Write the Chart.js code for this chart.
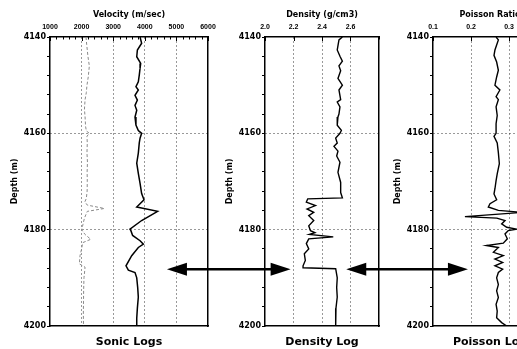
<!DOCTYPE html>
<html>
<head>
<meta charset="utf-8">
<script src="https://cdn.jsdelivr.net/npm/chart.js@4.4.1/dist/chart.umd.min.js"></script>
<style>
html, body { margin: 0; padding: 0; background: #fff; overflow: hidden; width: 517px; height: 349px; }
#wrap { position: relative; width: 560px; height: 349px; }
canvas { position: absolute; left: 0; top: 0; }
</style>
</head>
<body>
<div id="wrap">
  <canvas id="sonic" width="560" height="349"></canvas>
  <canvas id="density" width="560" height="349"></canvas>
  <canvas id="poisson" width="560" height="349"></canvas>
</div>
<script>
// depth range (m), shared by all three logs
const depthMin = 4140
const depthMax = 4200

// sonic log: P velocity (solid) and S velocity (grey), m/sec
const vpDepth = [4140, 4141.3, 4142.7, 4144.1, 4145.5, 4146.5, 4147.9, 4149.3, 4150.3, 4151, 4152.1, 4153.1, 4154.2, 4155.2,
  4156.6, 4158.3, 4159.4, 4160, 4161, 4162, 4164.1, 4166.2, 4168.3, 4170.4, 4172.5, 4173.8, 4175.3, 4176.2, 4178.1, 4179.9,
  4180.2, 4181.2, 4182.3, 4183, 4183.7, 4185.4, 4187.5, 4188.4, 4188.9, 4190, 4192, 4194, 4196.3, 4198.4, 4200]
const vp = [3850, 3900, 3765, 3745, 3870, 3850, 3825, 3795, 3720, 3795, 3690, 3765, 3690, 3745,
  3690, 3720, 3795, 3900, 3850, 3825, 3795, 3745, 3795, 3850, 3900, 3975, 3745, 4405, 3900, 3530,
  3560, 3615, 3850, 3955, 3795, 3585, 3405, 3480, 3690, 3745, 3775, 3795, 3765, 3745, 3745]

const vsDepth = [4140, 4141.5, 4142.7, 4144, 4146, 4148.3, 4150, 4151.5, 4153, 4155, 4156.6, 4158.5, 4159.5, 4160, 4160.6,
  4162, 4164, 4166, 4168, 4170, 4172, 4173.5, 4174.2, 4174.9, 4175.6, 4176.2, 4177.6, 4179, 4180, 4181, 4182, 4182.7,
  4184, 4185.4, 4187.1, 4187.8, 4190, 4192.5, 4195, 4197.5, 4200]
const vs = [2140, 2160, 2180, 2200, 2245, 2210, 2170, 2150, 2110, 2090, 2110, 2125, 2150, 2245, 2170,
  2180, 2170, 2185, 2175, 2180, 2175, 2150, 2105, 2180, 2720, 2180, 2090, 2040, 2000, 2110, 2290, 2035,
  2000, 1950, 1930, 2110, 2075, 2065, 2060, 2055, 2060]

// density log, g/cm3
const rhoDepth = [4140, 4140.6, 4142.7, 4144, 4145, 4146, 4147, 4148.6, 4150, 4151, 4153, 4153.5, 4154.5, 4156, 4156.6,
  4158.3, 4159.4, 4160, 4161, 4162, 4162.7, 4163.7, 4164.7, 4166, 4168.1, 4170.2, 4172.3, 4173.4, 4173.6, 4174.3, 4175,
  4175.7, 4176.4, 4177.1, 4178.1, 4179.2, 4180.2, 4180.6, 4181, 4181.5, 4181.9, 4182.9, 4184, 4185, 4186.4, 4187.5,
  4187.9, 4188.1, 4190, 4192, 4194, 4196.3, 4198.4, 4200]
const rho = [2.543, 2.519, 2.507, 2.526, 2.543, 2.519, 2.531, 2.512, 2.543, 2.519, 2.531, 2.507, 2.526, 2.519, 2.512,
  2.507, 2.536, 2.526, 2.496, 2.507, 2.484, 2.512, 2.503, 2.526, 2.512, 2.531, 2.531, 2.543, 2.30, 2.29, 2.354,
  2.295, 2.342, 2.307, 2.342, 2.307, 2.319, 2.35, 2.31, 2.479, 2.307, 2.29, 2.307, 2.276, 2.283, 2.267,
  2.267, 2.496, 2.507, 2.503, 2.507, 2.498, 2.496, 2.496]

// poisson ratio log
const prDepth = [4140, 4140.6, 4142.7, 4143.8, 4145.2, 4146.9, 4148.3, 4150, 4151, 4152.4, 4153, 4154.5, 4156.3, 4158,
  4160, 4160.6, 4162, 4164, 4166.3, 4168.4, 4169.8, 4171.5, 4172.6, 4173.8, 4174.6, 4175.3, 4176, 4176.4, 4177.3,
  4177.6, 4178.1, 4178.8, 4179.5, 4179.9, 4180.2, 4180.9, 4181.9, 4182.8, 4183.3, 4183.7, 4184.7, 4185.4, 4186.1,
  4186.8, 4187.5, 4188.2, 4188.9, 4190, 4191.4, 4192.7, 4194.1, 4195.5, 4196.9, 4198.3, 4199.3, 4200]
const pr = [0.266, 0.272, 0.263, 0.2605, 0.2675, 0.272, 0.2675, 0.263, 0.276, 0.266, 0.272, 0.266, 0.269, 0.266,
  0.266, 0.2605, 0.269, 0.272, 0.2746, 0.269, 0.266, 0.263, 0.2605, 0.2675, 0.25, 0.2456, 0.272, 0.335, 0.184,
  0.268, 0.2895, 0.2807, 0.294, 0.32, 0.298, 0.2895, 0.2956, 0.285, 0.241, 0.272, 0.259, 0.285, 0.263,
  0.2833, 0.263, 0.2833, 0.272, 0.2675, 0.272, 0.2675, 0.272, 0.266, 0.269, 0.2675, 0.2807, 0.294]

// arrows between the panels (depth, value on left panel, value on right panel)
const arrowDepth = [4188.2, 4188.2]
const arrowFrom = [[0, 4700], [1, 2.57]]
const arrowTo = [[1, 2.18], [2, 0.192]]

const black = '#000'
const dotted = '#333'
const tickFont = { family: "'Liberation Sans', Arial, sans-serif", size: 7, weight: 'bold' }
const labelFont = { family: "'DejaVu Sans', sans-serif", size: 8, weight: 'bold' }
const bigFont = { family: "'DejaVu Sans', sans-serif", size: 11, weight: 'bold' }

function pts(depths, vals) {
  return depths.map((d, i) => ({ x: vals[i], y: d }))
}

// small tick marks hanging down from the top axis
const inwardTicks = {
  id: 'inwardTicks',
  afterDraw(chart) {
    const s = chart.scales.x
    const top = chart.chartArea.top
    const ctx = chart.ctx
    ctx.save()
    ctx.strokeStyle = black
    ctx.lineWidth = 1
    s.ticks.forEach(t => {
      const px = Math.round(s.getPixelForValue(t.value)) + 0.5
      ctx.beginPath()
      ctx.moveTo(px, top)
      ctx.lineTo(px, top + (t.label ? 4 : 2.5))
      ctx.stroke()
    })
    ctx.restore()
  }
}

function panel(id, o) {
  return new Chart(document.getElementById(id), {
    type: 'scatter',
    data: { datasets: o.datasets },
    options: {
      responsive: false,
      animation: false,
      devicePixelRatio: 1,
      layout: { padding: { left: o.padLeft, right: o.padRight, top: 0, bottom: 0 } },
      plugins: { legend: { display: false }, tooltip: { enabled: false } },
      elements: { point: { radius: 0 }, line: { tension: 0 } },
      scales: {
        x: {
          type: 'linear', position: 'top', min: o.min, max: o.max,
          ticks: { stepSize: o.step, autoSkip: false, maxRotation: 0, padding: 6, font: tickFont, color: black, callback: o.label },
          grid: {
            drawTicks: false, lineWidth: 1,
            color: c => (c.tick && o.grid(c.tick.value)) ? dotted : 'transparent'
          },
          border: { color: black, width: 1.5, dash: [1, 3] },
          title: { display: true, text: o.title, font: labelFont, color: black, padding: { top: 10, bottom: 0 } },
          afterFit: s => { s.height = 37 }
        },
        xb: {
          type: 'linear', position: 'bottom', min: o.min, max: o.max,
          ticks: { display: false },
          grid: { display: false },
          border: { color: black, width: 1.5 },
          title: { display: true, text: o.caption, font: bigFont, color: black, padding: { top: 0, bottom: 0 } },
          afterFit: s => { s.height = 23 }
        },
        y: {
          type: 'linear', position: 'left', reverse: true, min: depthMin, max: depthMax,
          ticks: {
            stepSize: 4, autoSkip: false, padding: 1, font: labelFont, color: black,
            callback: v => (v - depthMin) % 20 === 0 ? String(v) : ''
          },
          grid: {
            tickLength: 3, tickColor: black, lineWidth: 1,
            color: c => (c.tick && c.tick.value % 20 === 0 && c.tick.value > depthMin && c.tick.value < depthMax) ? dotted : 'transparent'
          },
          border: { color: black, width: 1.5, dash: [1, 3] },
          title: { display: true, text: 'Depth (m)', font: labelFont, color: black, padding: { top: 10, bottom: 0 } },
          afterFit: s => { s.width = 50 }
        },
        y2: {
          type: 'linear', position: 'right', reverse: true, min: depthMin, max: depthMax,
          ticks: { display: false },
          grid: { display: false },
          border: { color: black, width: 1.5 },
          afterFit: s => { s.width = o.rightW }
        }
      }
    },
    plugins: [inwardTicks].concat(o.plugins || [])
  })
}

const sonicChart = panel('sonic', {
  min: 1000, max: 6000, step: 200,
  label: v => v % 1000 === 0 ? String(v) : '',
  grid: v => v % 1000 === 0 && v > 1000 && v < 6000,
  title: 'Velocity (m/sec)', caption: 'Sonic Logs',
  padLeft: 0, padRight: 338, rightW: 14,
  datasets: [
    { data: pts(vsDepth, vs), showLine: true, borderColor: '#8a8a8a', borderWidth: 1, borderDash: [3, 2] },
    { data: pts(vpDepth, vp), showLine: true, borderColor: black, borderWidth: 1.5 }
  ]
})

const densityChart = panel('density', {
  min: 2.0, max: 2.8, step: 0.2,
  label: v => v < 2.75 ? v.toFixed(1) : '',
  grid: v => v > 2.05 && v < 2.75,
  title: 'Density (g/cm3)', caption: 'Density Log',
  padLeft: 215, padRight: 167, rightW: 14,
  datasets: [
    { data: pts(rhoDepth, rho), showLine: true, borderColor: black, borderWidth: 1.4 }
  ]
})

// double-headed arrows, placed with the panels' own scales
const arrows = {
  id: 'arrows',
  afterDraw(chart) {
    const charts = [sonicChart, densityChart, chart]
    const ctx = chart.ctx
    ctx.save()
    ctx.strokeStyle = black
    ctx.fillStyle = black
    ctx.lineWidth = 2.5
    arrowDepth.forEach((d, i) => {
      const y = chart.scales.y.getPixelForValue(d)
      const x1 = charts[arrowFrom[i][0]].scales.x.getPixelForValue(arrowFrom[i][1])
      const x2 = charts[arrowTo[i][0]].scales.x.getPixelForValue(arrowTo[i][1])
      ctx.beginPath()
      ctx.moveTo(x1 + 18, y)
      ctx.lineTo(x2 - 18, y)
      ctx.stroke()
      ctx.beginPath()
      ctx.moveTo(x1, y); ctx.lineTo(x1 + 20, y - 6.5); ctx.lineTo(x1 + 20, y + 6.5); ctx.closePath()
      ctx.fill()
      ctx.beginPath()
      ctx.moveTo(x2, y); ctx.lineTo(x2 - 20, y - 6.5); ctx.lineTo(x2 - 20, y + 6.5); ctx.closePath()
      ctx.fill()
    })
    ctx.restore()
  }
}

const poissonChart = panel('poisson', {
  min: 0.1, max: 0.4, step: 0.1,
  label: v => v.toFixed(1),
  grid: v => v > 0.15 && v < 0.35,
  title: 'Poisson Ratio', caption: 'Poisson Log',
  padLeft: 383, padRight: 0, rightW: 13,
  plugins: [arrows],
  datasets: [
    { data: pts(prDepth, pr), showLine: true, borderColor: black, borderWidth: 1.4 }
  ]
})
</script>
</body>
</html>
